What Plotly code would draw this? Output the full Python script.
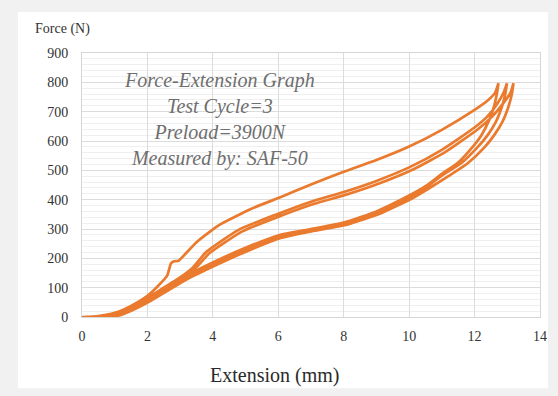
import plotly.graph_objects as go

# Cycle 1 loading
l1_x = [0, 0.5, 1.0, 1.5, 2.0, 2.3, 2.6, 2.72, 2.82, 2.95, 3.5, 4.2, 5.2, 6.1, 7.0, 8.0, 9.0, 10.0, 11.0, 12.0, 12.4, 12.63, 12.73]
l1_f = [0, 3, 14, 38, 72, 103, 140, 183, 190, 192, 255, 314, 370, 410, 452, 495, 535, 581, 638, 706, 738, 765, 797]
# Cycle 1 unloading
u1_x = [12.73, 12.68, 12.6, 12.45, 12.2, 12.0, 11.5, 11.0, 10.5, 10.0, 9.0, 8.0, 7.0, 6.0, 5.0, 4.0, 3.0, 2.0, 1.5, 1.0, 0.7]
u1_f = [797, 760, 720, 672, 618, 588, 527, 488, 446, 414, 360, 322, 300, 278, 236, 186, 130, 62, 32, 10, 0]
# Cycle 2 loading
l2_x = [0.7, 1.0, 1.5, 2.0, 2.5, 3.0, 3.4, 3.8, 4.8, 6.0, 7.0, 8.0, 9.0, 10.0, 11.0, 12.0, 12.4, 12.7, 12.9, 12.99]
l2_f = [0, 8, 32, 65, 100, 135, 170, 222, 298, 352, 393, 426, 464, 510, 570, 646, 685, 728, 768, 797]
# Cycle 2 unloading
u2_x = [12.99, 12.93, 12.83, 12.65, 12.4, 12.1, 11.6, 11.0, 10.5, 10.0, 9.0, 8.0, 7.0, 6.0, 5.0, 4.0, 3.0, 2.0, 1.5, 1.1, 0.8]
u2_f = [797, 755, 715, 665, 620, 580, 525, 482, 441, 409, 356, 318, 297, 274, 231, 181, 126, 58, 28, 8, 0]
# Cycle 3 loading
l3_x = [0.8, 1.1, 1.6, 2.1, 2.6, 3.1, 3.5, 3.9, 4.9, 6.1, 7.1, 8.1, 9.1, 10.1, 11.1, 12.1, 12.55, 12.85, 13.1, 13.19]
l3_f = [0, 8, 32, 65, 100, 135, 170, 218, 292, 346, 386, 418, 456, 502, 562, 640, 685, 725, 765, 797]
# Cycle 3 unloading
u3_x = [13.19, 13.13, 13.03, 12.85, 12.6, 12.3, 11.8, 11.2, 10.6, 10.1, 9.1, 8.1, 7.1, 6.1, 5.1, 4.1, 3.1, 2.1, 1.6, 1.2, 0.9]
u3_f = [797, 755, 715, 665, 620, 578, 525, 480, 438, 405, 352, 315, 294, 270, 227, 177, 122, 55, 26, 7, 0]

x_ticks = [0, 2, 4, 6, 8, 10, 12, 14]
y_ticks = [0, 100, 200, 300, 400, 500, 600, 700, 800, 900]

xs = l1_x + u1_x + l2_x + u2_x + l3_x + u3_x
fs = l1_f + u1_f + l2_f + u2_f + l3_f + u3_f

fig = go.Figure()
fig.add_trace(go.Scatter(
    x=xs, y=fs, mode="lines",
    line=dict(color="#E97A2E", width=2.7, shape="spline", smoothing=0.5),
    hoverinfo="skip", showlegend=False,
))

serif = "Liberation Serif, Times New Roman, serif"
fig.update_layout(
    width=558, height=396,
    margin=dict(l=82, r=18, t=53, b=79),
    paper_bgcolor="#f1f1f1",
    plot_bgcolor="white",
    font=dict(family=serif, color="#333333", size=13),
    xaxis=dict(
        range=[0, 14], tickvals=x_ticks, ticktext=[str(v) for v in x_ticks],
        showgrid=True, gridcolor="#dcdcdc", gridwidth=1,
        showline=True, linecolor="#d6d6d6", mirror=True,
        zeroline=False, ticks="", ticklabelstandoff=6,
        tickfont=dict(family=serif, size=14, color="#333333"),
    ),
    yaxis=dict(
        range=[0, 900], tickvals=y_ticks, ticktext=[str(v) for v in y_ticks],
        showgrid=True, gridcolor="#dcdcdc", gridwidth=1,
        minor=dict(dtick=20, showgrid=True, gridcolor="#efefef", gridwidth=1),
        showline=True, linecolor="#d6d6d6", mirror=True,
        zeroline=False, ticks="", ticklabelstandoff=10,
        tickfont=dict(family=serif, size=14, color="#333333"),
    ),
    shapes=[dict(
        type="rect", xref="paper", yref="paper",
        x0=-0.1397, x1=1.0175, y0=-0.27, y1=1.155,
        fillcolor="white", line=dict(width=0), layer="below",
    )],
    annotations=[
        dict(text="Force (N)", xref="paper", yref="paper", x=-0.042, y=1.091,
             xanchor="center", yanchor="middle", showarrow=False,
             font=dict(family=serif, size=14, color="#333333")),
        dict(text="Extension (mm)", xref="paper", yref="paper", x=0.42, y=-0.22,
             xanchor="center", yanchor="middle", showarrow=False,
             font=dict(family=serif, size=20, color="#2a2a2a")),
        dict(text="<i>Force-Extension Graph<br>Test Cycle=3<br>Preload=3900N<br>Measured by: SAF-50</i>",
             xref="paper", yref="paper", x=0.301, y=0.75,
             xanchor="center", yanchor="middle", align="center", showarrow=False,
             font=dict(family=serif, size=20, color="#6e6e6e")),
    ],
)

fig.write_html("out.html")
